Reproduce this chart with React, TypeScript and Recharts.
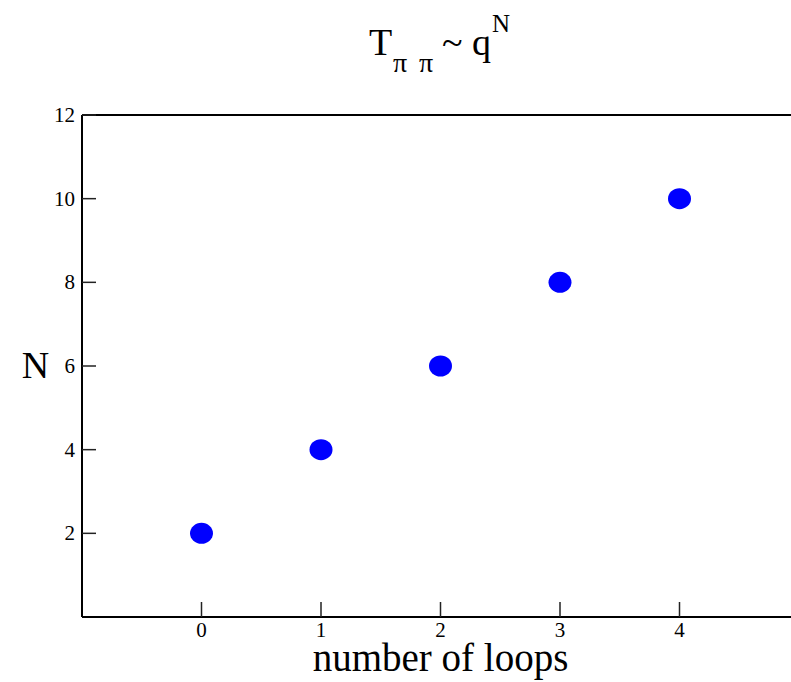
import { Scatter, ScatterChart, XAxis, YAxis } from "recharts";

const loops = [0, 1, 2, 3, 4];
const exponents = [2, 4, 6, 8, 10];
const xTicks = [0, 1, 2, 3, 4];
const yTicks = [2, 4, 6, 8, 10, 12];

const points = loops.map((x, i) => ({ x, y: exponents[i] }));

const SERIF = "'Liberation Serif', 'DejaVu Serif', serif";
const TICK_LEN = 14;

// ticks point into the plot; labels sit outside
const BottomTick = (props: any) => {
  const { x, y, payload } = props;
  return (
    <g>
      <line x1={x} y1={y} x2={x} y2={y - TICK_LEN - 1} stroke="#222" strokeWidth={1.5} />
      <text x={x} y={y + 20} textAnchor="middle" fontFamily={SERIF} fontSize={21} fill="#000">
        {payload.value}
      </text>
    </g>
  );
};

const TopTick = (props: any) => {
  const { x, y } = props;
  return <line x1={x} y1={y} x2={x} y2={y + TICK_LEN} stroke="#222" strokeWidth={1.5} />;
};

const LeftTick = (props: any) => {
  const { x, y, payload } = props;
  return (
    <g>
      <line x1={x} y1={y} x2={x + TICK_LEN} y2={y} stroke="#222" strokeWidth={1.5} />
      <text x={x - 7} y={y + 7} textAnchor="end" fontFamily={SERIF} fontSize={21} fill="#000">
        {payload.value}
      </text>
    </g>
  );
};

const RightTick = (props: any) => {
  const { x, y } = props;
  return <line x1={x} y1={y} x2={x - TICK_LEN} y2={y} stroke="#222" strokeWidth={1.5} />;
};

const Dot = (props: any) => {
  const { cx, cy } = props;
  return <ellipse cx={cx} cy={cy} rx={11.5} ry={10.5} fill="#0000ff" />;
};

export default function App() {
  return (
    <div
      style={{
        position: "absolute",
        left: 0,
        top: 0,
        width: 791,
        height: 682,
        overflow: "hidden",
        background: "#fff",
      }}
    >
      <ScatterChart
        width={830}
        height={682}
        margin={{ top: 114, right: 30, bottom: 64, left: 81 }}
      >
        <XAxis
          xAxisId="bottom"
          type="number"
          dataKey="x"
          domain={[-1, 5]}
          ticks={xTicks}
          height={1}
          tickSize={0}
          tickMargin={0}
          tickLine={false}
          axisLine={{ stroke: "#000", strokeWidth: 2 }}
          tick={BottomTick}
          label={{
            content: (p: any) => (
              <text
                x={p.viewBox.x + p.viewBox.width / 2}
                y={p.viewBox.y + 54}
                textAnchor="middle"
                fontFamily={SERIF}
                fontSize={39}
                fill="#000"
              >
                number of loops
              </text>
            ),
          }}
        />
        <XAxis
          xAxisId="top"
          orientation="top"
          type="number"
          dataKey="x"
          domain={[-1, 5]}
          ticks={xTicks}
          height={1}
          tickSize={0}
          tickMargin={0}
          tickLine={false}
          axisLine={{ stroke: "#000", strokeWidth: 2 }}
          tick={TopTick}
        />
        <YAxis
          yAxisId="left"
          type="number"
          dataKey="y"
          domain={[0, 12]}
          ticks={yTicks}
          width={1}
          tickSize={0}
          tickMargin={0}
          tickLine={false}
          axisLine={{ stroke: "#000", strokeWidth: 2 }}
          tick={LeftTick}
          label={{
            content: (p: any) => (
              <text
                x={35.5}
                y={p.viewBox.y + p.viewBox.height / 2 + 12}
                textAnchor="middle"
                fontFamily={SERIF}
                fontSize={38}
                fill="#000"
              >
                N
              </text>
            ),
          }}
        />
        <YAxis
          yAxisId="right"
          orientation="right"
          type="number"
          dataKey="y"
          domain={[0, 12]}
          ticks={yTicks}
          width={1}
          tickSize={0}
          tickMargin={0}
          tickLine={false}
          axisLine={{ stroke: "#000", strokeWidth: 2 }}
          tick={RightTick}
        />
        <Scatter
          xAxisId="bottom"
          yAxisId="left"
          data={points}
          shape={Dot}
          isAnimationActive={false}
        />
      </ScatterChart>
      <svg
        width={791}
        height={100}
        style={{ position: "absolute", left: 0, top: 0, pointerEvents: "none" }}
      >
        <text y={55} fontFamily={SERIF} fontSize={38} fill="#000">
          <tspan x={369}>T</tspan>
          <tspan x={393} y={72} fontSize={28}>π</tspan>
          <tspan x={419} y={72} fontSize={28}>π</tspan>
          <tspan x={442} y={55}>~</tspan>
          <tspan x={472} y={55}>q</tspan>
          <tspan x={492} y={32} fontSize={25}>N</tspan>
        </text>
      </svg>
    </div>
  );
}
